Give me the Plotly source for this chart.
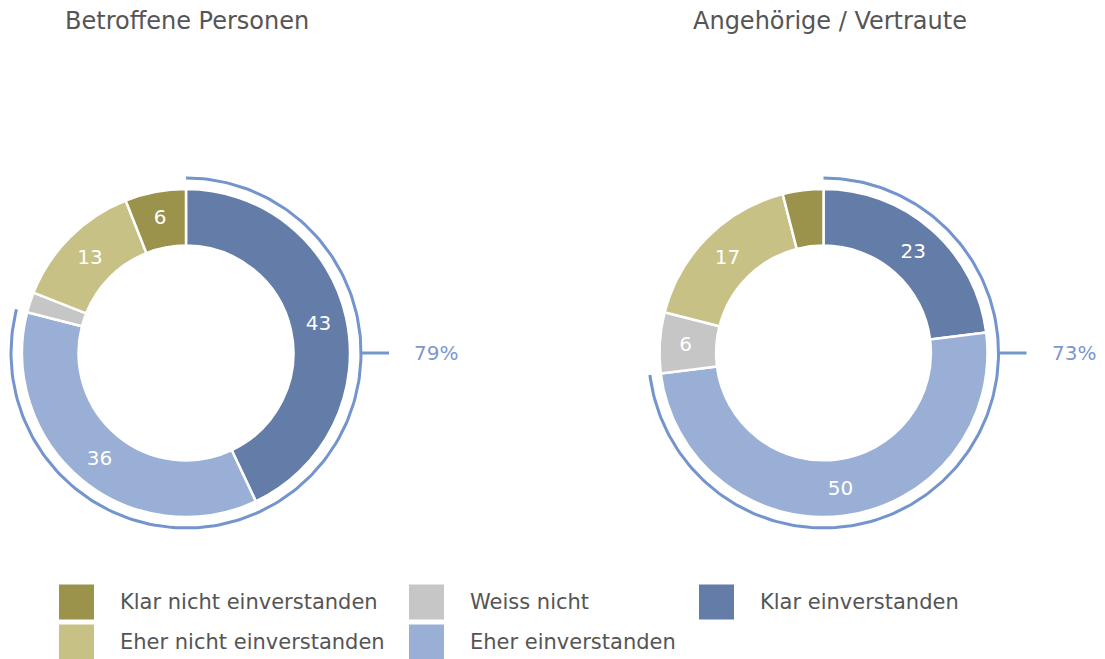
import math
import plotly.graph_objects as go

# page is rendered with the default 8px body margin, so work in page pixels
OFF = 8
W, H = 1105 - OFF, 659 - OFF

categories = ["Klar einverstanden", "Eher einverstanden", "Weiss nicht",
              "Eher nicht einverstanden", "Klar nicht einverstanden"]
colors = ["#637ca8", "#9aafd6", "#c6c6c6", "#c7c186", "#9b924c"]

titles = ["Betroffene Personen", "Angehörige / Vertraute"]
values_betroffene = [43, 36, 2, 13, 6]
values_angehoerige = [23, 50, 6, 17, 4]
min_label = 5  # smaller slices carry no number

legend_order = ["Klar nicht einverstanden", "Weiss nicht", "Klar einverstanden",
                "Eher nicht einverstanden", "Eher einverstanden"]

FONT = "DejaVu Sans"
TXT = "#555555"
ARC = "#7394cc"

# layout geometry (page pixels)
centers = [(186, 353), (823.5, 353)]
R_OUT = 164
HOLE = 0.655
R_ARC = 175
title_x = [63, 691]


def px(x):
    return x - OFF


def py(y):
    return H - (y - OFF)


fig = go.Figure()

datasets = [values_betroffene, values_angehoerige]
for (cx, cy), vals in zip(centers, datasets):
    text = [str(v) if v >= min_label else "" for v in vals]
    fig.add_trace(go.Pie(
        labels=categories, values=vals, sort=False, direction="clockwise",
        rotation=0,
        hole=HOLE,
        marker=dict(colors=colors, line=dict(color="white", width=2.5)),
        text=text, textinfo="text", textposition="inside",
        insidetextorientation="horizontal",
        textfont=dict(family=FONT, size=20, color="white"),
        hoverinfo="label+value",
        showlegend=False,
        domain=dict(x=[px(cx - R_OUT) / W, px(cx + R_OUT) / W],
                    y=[py(cy + R_OUT) / H, py(cy - R_OUT) / H]),
    ))
    # outer arc around agreeing share
    share = (vals[0] + vals[1]) / sum(vals)
    n = 200
    xs, ys = [], []
    for i in range(n + 1):
        th = 2 * math.pi * share * i / n
        xs.append(px(cx + R_ARC * math.sin(th)))
        ys.append(py(cy - R_ARC * math.cos(th)))
    fig.add_trace(go.Scatter(x=xs, y=ys, mode="lines",
                             line=dict(color=ARC, width=3),
                             hoverinfo="skip", showlegend=False))
    fig.add_trace(go.Scatter(x=[px(cx + R_ARC), px(cx + R_ARC + 28)], y=[py(cy), py(cy)],
                             mode="lines", line=dict(color=ARC, width=3),
                             hoverinfo="skip", showlegend=False))
    fig.add_annotation(x=px(cx + R_ARC + 51), y=py(cy), text=f"{round(share * 100)}%",
                       showarrow=False, xanchor="left", yanchor="middle",
                       font=dict(family=FONT, size=20, color="#7c98cf"))

for t, tx in zip(titles, title_x):
    fig.add_annotation(x=px(tx), y=py(21), text=t, showarrow=False,
                       xanchor="left", yanchor="middle",
                       font=dict(family=FONT, size=24, color=TXT))

# custom legend
leg_sq_x = [59, 409, 699]
leg_row_y = [602, 642]
SQ = 35
for i, name in enumerate(legend_order):
    row, col = divmod(i, 3)
    x0 = leg_sq_x[col]
    yc = leg_row_y[row]
    col_hex = colors[categories.index(name)]
    fig.add_shape(type="rect", xref="x", yref="y",
                  x0=px(x0), x1=px(x0 + SQ), y0=py(yc - SQ / 2), y1=py(yc + SQ / 2),
                  fillcolor=col_hex, line=dict(width=0))
    fig.add_annotation(x=px(x0 + 59), y=py(yc), text=name, showarrow=False,
                       xanchor="left", yanchor="middle",
                       font=dict(family=FONT, size=21, color=TXT))

fig.update_layout(
    width=W, height=H,
    margin=dict(l=0, r=0, t=0, b=0),
    paper_bgcolor="white", plot_bgcolor="rgba(0,0,0,0)",
    xaxis=dict(range=[0, W], visible=False, fixedrange=True),
    yaxis=dict(range=[0, H], visible=False, fixedrange=True),
    showlegend=False,
)

fig.write_html("out.html")
